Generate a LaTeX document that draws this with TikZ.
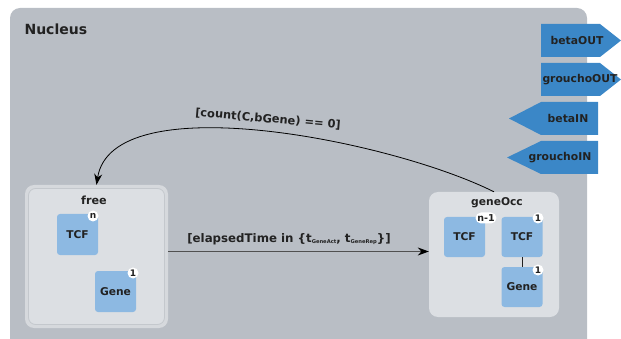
\documentclass[tikz,border=0pt]{standalone}
\usepackage{fontspec}
\setmainfont{DejaVu Sans}
\usetikzlibrary{arrows.meta,shapes.misc}
\definecolor{nucbg}{HTML}{B9BEC5}
\definecolor{boxbg}{HTML}{DCDFE3}
\definecolor{boxring}{HTML}{D6D9DD}
\definecolor{boxline}{HTML}{C4C8CD}
\definecolor{molblue}{HTML}{8DB9E2}
\definecolor{portblue}{HTML}{3B87C7}
\definecolor{txt}{HTML}{222222}
\definecolor{arrgray}{HTML}{505050}
\tikzset{
  x=1pt, y=-1pt,
  every node/.style={font=\bfseries, text=txt},
  compbox/.style={rectangle, rounded corners=9pt, fill=boxbg, inner sep=0pt},
  mol/.style={rectangle, rounded corners=3pt, fill=molblue, inner sep=0pt,
    minimum width=41pt, minimum height=41pt, font=\bfseries\fontsize{10.7}{12}\selectfont},
  badge/.style={circle, fill=white, inner sep=0pt, minimum size=11pt,
    font=\bfseries\fontsize{9}{10}\selectfont},
  portlbl/.style={font=\bfseries\fontsize{10.8}{12}\selectfont},
  guard/.style={font=\bfseries\fontsize{11.4}{12}\selectfont, text=txt},
}
\newcommand{\tsub}[1]{\raisebox{-0.8pt}{\fontsize{5.2}{6}\selectfont #1}}
\begin{document}
\begin{tikzpicture}
\useasboundingbox (0,0) rectangle (621,339);
\clip (0,0) rectangle (621,339);
% Nucleus compartment
\fill[nucbg, rounded corners=10pt] (10,8) rectangle (587,360);
\node[anchor=west, font=\bfseries\fontsize{14}{16}\selectfont] (nuclbl) at (21,29) {Nucleus};

% ports
\fill[portblue] (541,24) -- (600,24) -- (621,40.5) -- (600,57) -- (541,57) -- cycle;
\node[portlbl] (betaOUT) at (577,40.5) {betaOUT};
\fill[portblue] (541,63) -- (600,63) -- (621,79.5) -- (600,96) -- (541,96) -- cycle;
\node[portlbl] (grouchoOUT) at (580,79.5) {grouchoOUT};
\fill[portblue] (598,102) -- (541,102) -- (509,118.5) -- (541,135) -- (598,135) -- cycle;
\node[portlbl] (betaIN) at (568,118.5) {betaIN};
\fill[portblue] (598,141) -- (541,141) -- (507,157.5) -- (541,174) -- (598,174) -- cycle;
\node[portlbl] (grouchoIN) at (560,157.5) {grouchoIN};

% free compartment
\node[compbox, fill=boxring, minimum width=143pt, minimum height=143pt] (free) at (96.5,256.5) {};
\node[compbox, draw=boxline, line width=0.8pt, rounded corners=7pt, minimum width=136pt, minimum height=136pt] (freein) at (96.5,256.5) {};
\node[font=\bfseries\fontsize{11.2}{12}\selectfont] (freelbl) at (94,200) {free};
\node[mol] (tcfA) at (77.5,234.5) {TCF};
\node[badge] (bA) at (93,216) {n};
\node[mol] (geneA) at (115.5,291.5) {Gene};
\node[badge] (bB) at (133,273) {1};

% geneOcc compartment
\node[compbox, minimum width=130pt, minimum height=125pt] (geneOcc) at (494,254.5) {};
\node[font=\bfseries\fontsize{10.7}{12}\selectfont] (occlbl) at (497,203) {geneOcc};
\node[mol, minimum height=40pt] (tcfB) at (464.5,237) {TCF};
\node[mol, minimum height=40pt] (tcfC) at (522,237) {TCF};
\node[mol, minimum height=40pt] (geneB) at (522,287) {Gene};
\draw[txt, line width=0.8pt] (tcfC.south) -- (geneB.north);
\node[rounded rectangle, fill=white, inner sep=0.6pt, minimum height=11pt, font=\bfseries\fontsize{9.5}{10}\selectfont] (bC) at (486,218) {n-1};
\node[badge] (bD) at (538,218) {1};
\node[badge] (bE) at (538,270) {1};

% transitions
\draw[arrgray, line width=0.9pt, -{Stealth[length=11pt,width=8pt,color=black]}] (free.east |- 0,251.5) -- (geneOcc.west |- 0,251.5);
\node[guard, font=\bfseries\fontsize{11.8}{12}\selectfont] (g1) at (289,239.5) {[elapsedTime in \{t\tsub{GeneAct}, t\tsub{GeneRep}\}]};
\draw[black, line width=0.8pt, -{Stealth[length=11pt,width=8pt]}] (geneOcc.north) .. controls (390,140) and (112,85) .. (free.north);
\node[guard, rotate=-5] (g2) at (268,119) {[count(C,bGene) == 0]};
\end{tikzpicture}
\end{document}
